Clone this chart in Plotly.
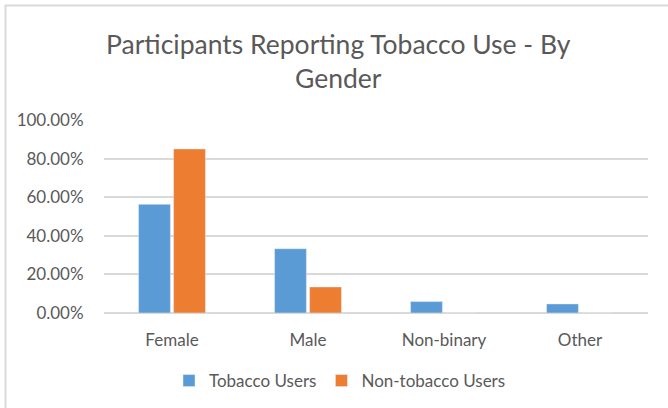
import plotly.graph_objects as go

categories = ["Female", "Male", "Non-binary", "Other"]
tobacco_users = [0.563, 0.333, 0.059, 0.047]
non_tobacco_users = [0.850, 0.135, 0.0, 0.0]
y_ticks = [0, 0.2, 0.4, 0.6, 0.8, 1.0]
y_tick_labels = ["0.00%", "20.00%", "40.00%", "60.00%", "80.00%", "100.00%"]

W, H = 668, 408
L, R, T, B = 104, 20, 120, 95
pw = W - L - R
ph = H - T - B

def px_x(px):
    return (px - L) / pw

def px_y(py):
    return (H - B - py) / ph

FONT = "Lato"
GREY = "#595959"

fig = go.Figure()
fig.add_trace(go.Bar(name="Tobacco Users", x=categories, y=tobacco_users,
                     marker_color="#5B9BD5"))
fig.add_trace(go.Bar(name="Non-tobacco Users", x=categories, y=non_tobacco_users,
                     marker_color="#ED7D31"))

fig.update_layout(
    width=W, height=H,
    margin=dict(l=L, r=R, t=T, b=B, autoexpand=False),
    paper_bgcolor="white", plot_bgcolor="white",
    barmode="group", bargap=0.485, bargroupgap=0.09,
    font=dict(family=FONT, size=17, color=GREY),
    showlegend=True,
    legend=dict(orientation="h", x=px_x(340), xanchor="center",
                y=px_y(381), yanchor="middle", font=dict(size=17, color=GREY),
                itemwidth=30, bgcolor="rgba(0,0,0,0)"),
    annotations=[dict(
        text="Participants Reporting Tobacco Use - By<br>Gender",
        xref="paper", yref="paper", x=px_x(338), y=px_y(61),
        xanchor="center", yanchor="middle", showarrow=False,
        font=dict(family=FONT, size=26.5, color=GREY), align="center")],
    shapes=[
        dict(type="line", xref="paper", yref="paper",
             x0=px_x(5.5), x1=px_x(5.5), y0=px_y(5), y1=px_y(420),
             line=dict(color="#d9d9d9", width=2)),
        dict(type="line", xref="paper", yref="paper",
             x0=px_x(5), x1=px_x(680), y0=px_y(5.5), y1=px_y(5.5),
             line=dict(color="#d9d9d9", width=2)),
    ],
)
fig.update_xaxes(showgrid=False, showline=False, zeroline=False,
                 ticks="outside", ticklen=12, tickcolor="rgba(0,0,0,0)",
                 tickfont=dict(size=17, color=GREY), fixedrange=True)
fig.update_yaxes(range=[0, 1.0], tickvals=y_ticks, ticktext=y_tick_labels,
                 showgrid=True, gridcolor="#d9d9d9", gridwidth=1.5,
                 zeroline=True, zerolinecolor="#d9d9d9", zerolinewidth=1.5,
                 showline=False, ticks="outside", ticklen=16, tickcolor="rgba(0,0,0,0)",
                 tickfont=dict(size=17, color=GREY), fixedrange=True)

fig.write_html("out.html", config={"displayModeBar": False},
               post_script="document.body.style.margin='0';document.body.style.padding='0';")
